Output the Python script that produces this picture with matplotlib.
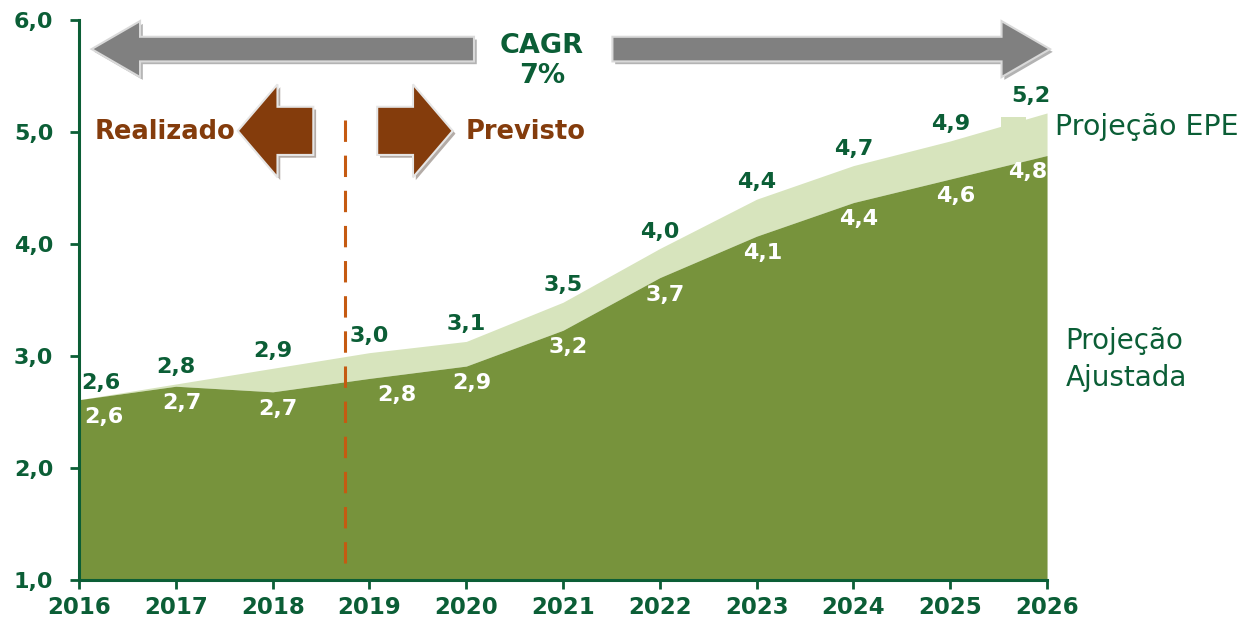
import numpy as np
import matplotlib
matplotlib.use("Agg")
import matplotlib.pyplot as plt
import matplotlib.patches as mpatches
import matplotlib.patheffects as pe

# dados
anos = [2016, 2017, 2018, 2019, 2020, 2021, 2022, 2023, 2024, 2025, 2026]
proj_epe = [2.61, 2.75, 2.89, 3.03, 3.13, 3.48, 3.96, 4.40, 4.70, 4.92, 5.17]
proj_ajustada = [2.61, 2.73, 2.68, 2.80, 2.91, 3.23, 3.70, 4.07, 4.37, 4.58, 4.79]
yticks = [1.0, 2.0, 3.0, 4.0, 5.0, 6.0]
corte = 2018.75   # linha realizado / previsto

verde = '#0b5e36'
verde_escuro_area = '#77933c'
verde_claro_area = '#d7e4bd'
marrom = '#843c0c'
laranja = '#c55a11'

def fmt(v):
    return ("%.1f" % v).replace('.', ',')

fig = plt.figure(figsize=(12.45, 6.24), dpi=100)
ax = fig.add_axes([0.0635, 0.0705, 0.7775, 0.8975])

ax.fill_between(anos, proj_ajustada, proj_epe, color=verde_claro_area, lw=0)
ax.fill_between(anos, 1.0, proj_ajustada, color=verde_escuro_area, lw=0)
# pequeno degrau claro perto de 2026 (como no original)
ax.add_patch(mpatches.Rectangle((2025.52, 4.9), 0.26, 0.23,
                                fc=verde_claro_area, ec='none'))

ax.set_xlim(2016, 2026)
ax.set_ylim(1.0, 6.0)
ax.set_xticks(anos)
ax.set_yticks(yticks)
ax.set_yticklabels([fmt(v) for v in yticks])
for s in ['top', 'right']:
    ax.spines[s].set_visible(False)
for s in ['left', 'bottom']:
    ax.spines[s].set_color(verde)
    ax.spines[s].set_linewidth(2.2)
ax.tick_params(colors=verde, width=2.0, length=6.5)
ax.tick_params(axis='y', labelsize=16, pad=12)
ax.tick_params(axis='x', labelsize=16.5, pad=5)
for lab in ax.get_xticklabels() + ax.get_yticklabels():
    lab.set_fontweight('bold')
    lab.set_color(verde)

# rotulos
n = len(anos)
for i, (a, v) in enumerate(zip(anos, proj_epe)):
    dx = 16 if i == 0 else (-12 if i == n - 1 else 0)
    ax.annotate(fmt(v), (a, v), xytext=(dx, 5), textcoords='offset points',
                ha='center', va='bottom', fontsize=16, fontweight='bold',
                color=verde, annotation_clip=False)
for i, (a, v) in enumerate(zip(anos, proj_ajustada)):
    dx = 18 if i == 0 else (-14 if i == n - 1 else (20 if i == 3 else 4))
    ax.annotate(fmt(v), (a, v), xytext=(dx, -5), textcoords='offset points',
                ha='center', va='top', fontsize=16, fontweight='bold',
                color='white', annotation_clip=False)

# linha tracejada
ax.plot([corte, corte], [5.11, 1.045], color=laranja, lw=2.2,
        dashes=(7, 4.5), solid_capstyle='butt')

sombra = [pe.SimplePatchShadow(offset=(2, -2), alpha=0.35), pe.Normal()]

# seta dupla CAGR (interrompida pela caixa do texto)
ycagr = 5.74
for x0, comp in [(2020.08, -3.95), (2021.51, 4.52)]:
    seta = mpatches.FancyArrow(x0, ycagr, comp, 0, width=0.22, head_width=0.5,
                               head_length=0.5, length_includes_head=True,
                               fc='#808080', ec='#d9d9d9', lw=1.5,
                               clip_on=False)
    seta.set_path_effects(sombra)
    ax.add_patch(seta)
ax.text(2020.78, 5.63, 'CAGR\n7%', ha='center', va='center', fontsize=19.5,
        fontweight='bold', color=verde, linespacing=1.2)

# setas realizado / previsto
for x0, comp in [(2018.42, -0.78), (2019.08, 0.78)]:
    seta = mpatches.FancyArrow(x0, 5.01, comp, 0, width=0.43, head_width=0.83,
                               head_length=0.41, length_includes_head=True,
                               fc=marrom, ec='#e6e6e6', lw=1.5, clip_on=False)
    seta.set_path_effects(sombra)
    ax.add_patch(seta)
ax.text(2017.61, 5.0, 'Realizado', ha='right', va='center', fontsize=18.5,
        fontweight='bold', color=marrom)
ax.text(2019.99, 5.0, 'Previsto', ha='left', va='center', fontsize=18.5,
        fontweight='bold', color=marrom)

# nomes das series
ax.text(2026.08, 5.04, 'Projeção EPE', ha='left', va='center', fontsize=20.5,
        color=verde)
ax.text(2026.19, 2.97, 'Projeção\nAjustada', ha='left', va='center',
        fontsize=20, color=verde, linespacing=1.4)

fig.savefig('out.png', dpi=100)
